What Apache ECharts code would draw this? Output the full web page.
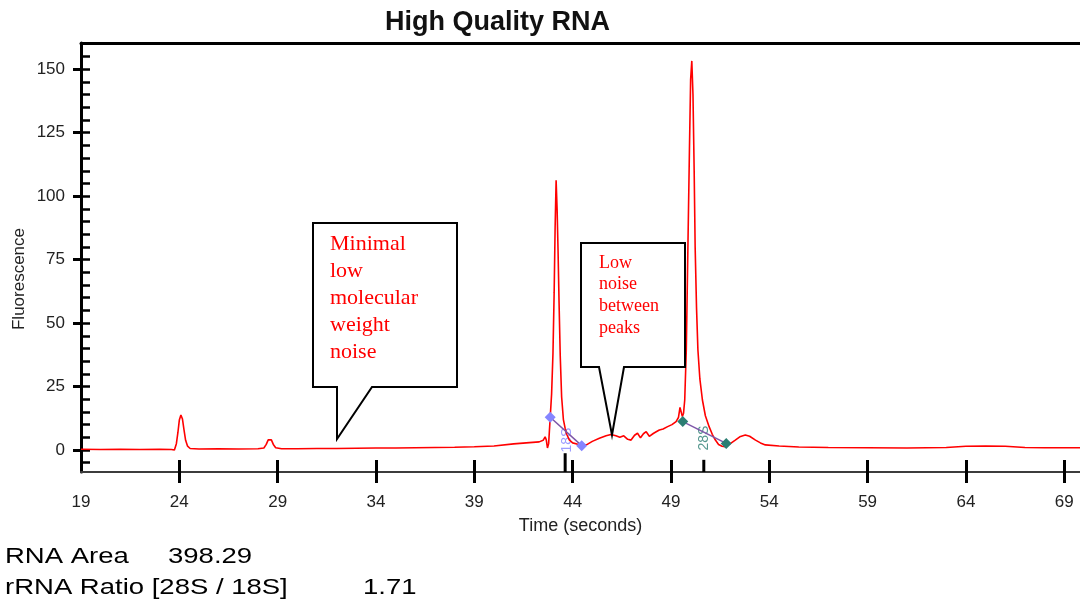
<!DOCTYPE html>
<html>
<head>
<meta charset="utf-8">
<title>High Quality RNA</title>
<script src="https://cdn.jsdelivr.net/npm/echarts@6/dist/echarts.min.js"></script>
<style>
  html, body { margin: 0; padding: 0; background: #fff; }
  #main { width: 1080px; height: 605px; }
</style>
</head>
<body>
<div id="main"></div>
<script>
// electropherogram trace (time in s, fluorescence)
var timeSec = [
  19.0, 20.0, 21.0, 22.0, 23.0, 23.6, 23.75, 23.85, 23.93, 24.0, 24.08, 24.16, 24.24, 24.32, 24.42, 24.55, 25.0,
  26.0, 27.0, 28.0, 28.3, 28.42, 28.52, 28.6, 28.68, 28.78, 28.9, 29.2,
  30.0, 31.0, 32.0, 33.0, 34.0, 35.0, 36.0, 37.0, 38.0, 39.0, 40.0, 41.0, 41.8, 42.3, 42.5, 42.6, 42.66, 42.72, 42.78,
  42.86, 42.93, 43.0, 43.06, 43.11, 43.16, 43.21, 43.26, 43.31, 43.37, 43.44, 43.53, 43.62, 43.7, 43.83,
  44.0, 44.26, 44.5, 44.7, 45.0, 45.36, 45.7, 45.95, 46.2, 46.4, 46.6, 46.8, 46.97, 47.15, 47.3, 47.45, 47.6, 47.74,
  47.9, 48.1, 48.25, 48.41, 48.6, 48.83, 49.05, 49.26, 49.38, 49.46, 49.52, 49.58, 49.64,
  49.7, 49.78, 49.86, 49.94, 50.0, 50.06, 50.12, 50.18, 50.23, 50.3, 50.37, 50.47, 50.6, 50.75, 50.94,
  51.1, 51.25, 51.42, 51.6, 51.76, 52.0, 52.27, 52.5, 52.78, 53.0, 53.3, 53.55, 53.8, 54.5, 55.5,
  57.0, 59.0, 61.0, 63.0, 64.0, 65.0, 66.0, 67.0, 68.0, 69.8
];
var fluor = [
  0.3, 0.2, 0.3, 0.2, 0.3, 0.2, 0.0, 2.5, 7.0, 11.8, 13.8, 12.2, 7.8, 3.8, 1.5, 0.6, 0.4,
  0.5, 0.4, 0.5, 0.8, 2.2, 4.0, 4.6, 4.0, 2.2, 0.9, 0.5,
  0.5, 0.6, 0.6, 0.7, 0.8, 0.8, 0.9, 1.0, 1.1, 1.3, 1.6, 2.4, 2.9, 3.2, 3.8, 5.2, 4.0, 0.8, 2.5,
  12.9, 22, 38, 62, 88, 106.3, 95, 78, 58, 37, 21, 12, 8.5, 6.2, 4.0,
  2.8, 2.3, 1.9, 2.0, 3.4, 4.6, 5.6, 6.1, 5.6, 5.0, 5.6, 4.2, 3.9, 5.8, 6.6, 4.8, 6.4, 7.2,
  5.4, 6.5, 7.2, 7.9, 8.3, 9.2, 10.0, 11.2, 12.8, 16.8, 15.0, 13.2, 14.5,
  19.7, 39.5, 79, 118.4, 146, 153.3, 140, 110, 80, 56, 39.5, 28, 19.7, 13.5, 9.2,
  6.2, 4.0, 2.2, 1.5, 1.3, 2.4, 3.9, 5.2, 5.9, 5.4, 3.9, 2.8, 2.0, 1.6, 1.2,
  1.0, 0.9, 0.8, 1.0, 1.5, 1.6, 1.5, 1.0, 0.9, 0.9
];

var xTickLabels = [19, 24, 29, 34, 39, 44, 49, 54, 59, 64, 69];
var yTickLabels = [0, 25, 50, 75, 100, 125, 150];

// ribosomal peak markers
var markerNames = ['18S', '28S'];
var marker18sTime = [42.86, 44.46];
var marker18sFluor = [12.9, 1.7];
var marker28sTime = [49.6, 51.81];
var marker28sFluor = [11.2, 2.6];
var markerTickTime = [43.62, 50.67];
var markerLabelTime = [43.73, 50.7];
var markerLabelFluor = [3.9, 4.7];

var rnaArea = '398.29';
var rrnaRatio = '1.71';

var X_MIN = 19, X_MAX = 69.8, Y_MIN = -8.67, Y_MAX = 160.36;

var chartDom = document.getElementById('main');
var myChart = echarts.init(chartDom, null, { renderer: 'canvas' });

var trace = timeSec.map(function (t, i) { return [t, fluor[i]]; });
var pairs = function (ts, vs) { return ts.map(function (t, i) { return [t, vs[i]]; }); };

var yMinorTicks = [];
for (var v = -5; v <= 155; v += 5) yMinorTicks.push(v);
var xTicks = xTickLabels.slice(1);

var tickLen = [7.4, 4.8]; // marker tick heights in data units
var markerColors = ['#8585ff', '#2b7d72'];

var sansFont = "'Liberation Sans', Arial, sans-serif";
var serifFont = "'Liberation Serif', 'Times New Roman', serif";

function callout(points, text, tx, ty, size, lh) {
  return [
    {
      type: 'polygon',
      z: 50,
      shape: { points: points },
      style: { fill: '#fff', stroke: '#000', lineWidth: 2 }
    },
    {
      type: 'text',
      z: 51,
      x: tx, y: ty,
      style: {
        text: text, fill: '#ff0000', font: size + 'px ' + serifFont,
        lineHeight: lh, verticalAlign: 'top', align: 'left'
      }
    }
  ];
}

var option = {
  animation: false,
  backgroundColor: '#fff',
  title: {
    text: 'High Quality RNA',
    left: 385,
    top: 9,
    padding: 0,
    textStyle: { fontFamily: sansFont, fontSize: 27, fontWeight: 'bold', color: '#111' }
  },
  grid: { left: 81, right: 0, top: 43, bottom: 133 },
  xAxis: [
    {
      type: 'value', position: 'bottom', min: X_MIN, max: X_MAX,
      axisLine: { onZero: false, lineStyle: { color: '#3c3c3c', width: 2 } },
      axisTick: { customValues: xTicks, length: 11, lineStyle: { color: '#000', width: 3 } },
      axisLabel: { customValues: xTickLabels, margin: 22, fontFamily: sansFont, fontSize: 17, color: '#222' },
      splitLine: { show: false },
      name: 'Time (seconds)', nameLocation: 'middle', nameGap: 45,
      nameTextStyle: { fontFamily: sansFont, fontSize: 18, color: '#222' }
    },
    {
      type: 'value', position: 'bottom', min: X_MIN, max: X_MAX,
      axisLine: { show: false, onZero: false },
      axisTick: { inside: true, customValues: xTicks, length: 12, lineStyle: { color: '#000', width: 3 } },
      axisLabel: { show: false },
      splitLine: { show: false }
    },
    {
      type: 'value', position: 'top', min: X_MIN, max: X_MAX,
      axisLine: { onZero: false, lineStyle: { color: '#000', width: 3 } },
      axisTick: { show: false },
      axisLabel: { show: false },
      splitLine: { show: false }
    }
  ],
  yAxis: [
    {
      type: 'value', position: 'left', min: Y_MIN, max: Y_MAX,
      axisLine: { show: true, onZero: false, lineStyle: { color: '#000', width: 3 } },
      axisTick: { show: true, customValues: yTickLabels, length: 8, lineStyle: { color: '#000', width: 3 } },
      axisLabel: { customValues: yTickLabels, margin: 16, fontFamily: sansFont, fontSize: 17, color: '#222' },
      splitLine: { show: false }
    },
    {
      type: 'value', position: 'left', min: Y_MIN, max: Y_MAX,
      axisLine: { show: false, onZero: false },
      axisTick: { show: true, inside: true, customValues: yMinorTicks, length: 9, lineStyle: { color: '#000', width: 2.5 } },
      axisLabel: { show: false },
      splitLine: { show: false }
    }
  ],
  series: [
    {
      name: 'Fluorescence',
      type: 'line',
      data: trace,
      showSymbol: false,
      symbol: 'none',
      lineStyle: { color: '#ff0000', width: 1.6 },
      z: 3
    },
    {
      name: '18S',
      type: 'line',
      data: pairs(marker18sTime, marker18sFluor),
      symbol: 'diamond', symbolSize: 11,
      itemStyle: { color: markerColors[0] },
      lineStyle: { color: '#7d55a8', width: 1.5 },
      z: 4
    },
    {
      name: '28S',
      type: 'line',
      data: pairs(marker28sTime, marker28sFluor),
      symbol: 'diamond', symbolSize: 11,
      itemStyle: { color: markerColors[1] },
      lineStyle: { color: '#7d55a8', width: 1.5 },
      z: 4
    },
    {
      type: 'scatter',
      symbolSize: 0,
      data: markerNames.map(function (n, i) {
        return {
          value: [markerLabelTime[i], markerLabelFluor[i]],
          label: {
            show: true, formatter: n, rotate: 90, position: 'inside',
            color: markerColors[i], fontFamily: sansFont, fontSize: 14
          }
        };
      }),
      z: 2
    }
  ].concat(markerTickTime.map(function (t, i) {
    return {
      type: 'line',
      data: [[t, Y_MIN], [t, Y_MIN + tickLen[i]]],
      symbol: 'none',
      clip: false,
      lineStyle: { color: '#000', width: 3 },
      z: 5
    };
  })),
  graphic: [
    {
      type: 'text', x: 19, y: 279, rotation: Math.PI / 2,
      style: { text: 'Fluorescence', font: '17px ' + sansFont, fill: '#222', align: 'center', verticalAlign: 'middle' }
    },
    {
      type: 'text', x: 5, y: 557, scaleX: 1.25,
      style: { text: 'RNA Area', font: '22px ' + sansFont, fill: '#000', verticalAlign: 'middle' }
    },
    {
      type: 'text', x: 168, y: 557, scaleX: 1.25,
      style: { text: rnaArea, font: '22px ' + sansFont, fill: '#000', verticalAlign: 'middle' }
    },
    {
      type: 'text', x: 5, y: 588, scaleX: 1.25,
      style: { text: 'rRNA Ratio [28S / 18S]', font: '22px ' + sansFont, fill: '#000', verticalAlign: 'middle' }
    },
    {
      type: 'text', x: 363, y: 588, scaleX: 1.25,
      style: { text: rrnaRatio, font: '22px ' + sansFont, fill: '#000', verticalAlign: 'middle' }
    }
  ]
    .concat(callout(
      [[313, 223], [457, 223], [457, 387], [372, 387], [337, 439], [337, 387], [313, 387]],
      'Minimal\nlow\nmolecular\nweight\nnoise', 330, 231, 22, 27))
    .concat(callout(
      [[581, 243], [685, 243], [685, 367], [624, 367], [612, 435], [599, 367], [581, 367]],
      'Low\nnoise\nbetween\npeaks', 599, 252, 18, 21.7))
};

option && myChart.setOption(option);
</script>
</body>
</html>
